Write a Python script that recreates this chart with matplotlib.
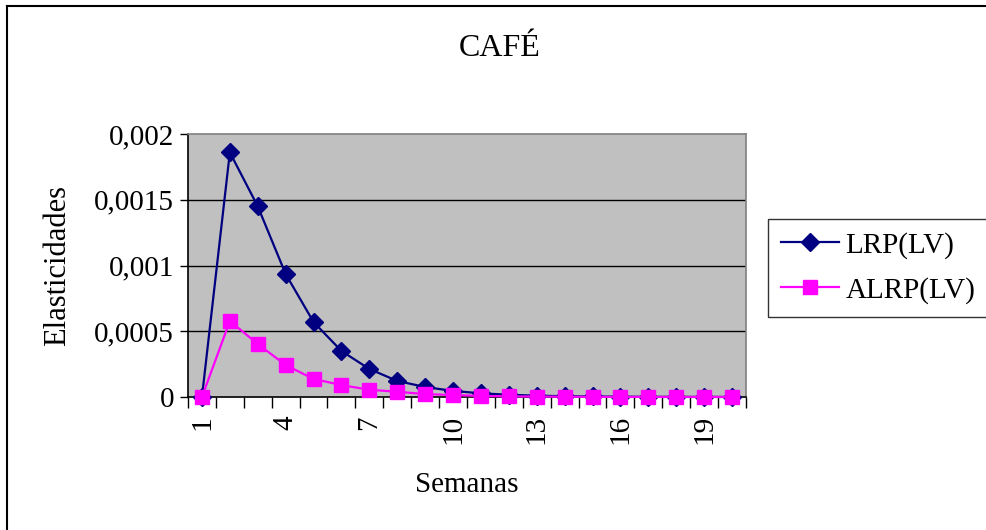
import matplotlib
matplotlib.use("Agg")
import matplotlib.pyplot as plt
from matplotlib.lines import Line2D

plt.rcParams['font.family'] = ['Liberation Serif', 'DejaVu Serif']

semanas = list(range(1, 21))
xtick_labels = ['1', '4', '7', '10', '13', '16', '19']
lrp = [0.0, 0.00186, 0.00145, 0.000935, 0.00057, 0.00035, 0.000213, 0.000122,
       0.000076, 0.000046, 0.000028, 0.000017, 0.00001, 0.000006, 0.000004,
       0.0000025, 0.0000015, 0.000001, 0.0000006, 0.0000004]
alrp = [0.0, 0.000578, 0.000403, 0.000243, 0.000137, 0.000091, 0.000055, 0.00004,
        0.000022, 0.000015, 0.000008, 0.000005, 0.000003, 0.000002, 0.000001,
        0.0000006, 0.0000004, 0.0000002, 0.0000001, 0.0000001]
yticks = [0, 0.0005, 0.001, 0.0015, 0.002]
ytick_labels = ['0', '0,0005', '0,001', '0,0015', '0,002']

W, H = 987, 530
fig = plt.figure(figsize=(W / 100, H / 100), dpi=100)
ax = fig.add_axes([188 / W, 1 - 397 / H, (746 - 188) / W, (397 - 134) / H])
ax.set_facecolor('#C0C0C0')

for y in yticks[1:4]:
    ax.axhline(y, color='black', lw=1.0, zorder=1)

ax.plot(semanas, lrp, color='#000080', lw=1.6, marker='D', markersize=9,
        markerfacecolor='#000080', markeredgecolor='#000080', zorder=3, clip_on=False)
ax.plot(semanas, alrp, color='#FF00FF', lw=1.6, marker='s', markersize=10,
        markerfacecolor='#FF00FF', markeredgecolor='#FF00FF', zorder=4, clip_on=False)

ax.set_xlim(0.5, 20.5)
ax.set_ylim(0, 0.002)
ax.set_yticks(yticks)
ax.set_yticklabels(ytick_labels, fontsize=21)
ax.set_xticks([x + 0.5 for x in range(0, 21)])
ax.set_xticklabels([])
ax.set_xticks([1, 4, 7, 10, 13, 16, 19], minor=True)
ax.set_xticklabels(xtick_labels, minor=True, rotation=90, fontsize=21)
ax.tick_params(axis='x', which='major', direction='out', length=8, width=1, color='black')
ax.tick_params(axis='x', which='minor', length=0, pad=13)
ax.tick_params(axis='y', direction='out', length=6, width=1, pad=4)

for s in ['top', 'right']:
    ax.spines[s].set_color('#808080')
    ax.spines[s].set_linewidth(1.2)
for s in ['left', 'bottom']:
    ax.spines[s].set_color('black')
    ax.spines[s].set_linewidth(1.2)

ax.set_xlabel('Semanas', fontsize=21, labelpad=20)
ax.set_ylabel('Elasticidades', fontsize=22, labelpad=16)
fig.text(500 / W, 1 - 48 / H, 'CAFÉ', fontsize=23, ha='center', va='center')

handles = [
    Line2D([], [], color='#000080', lw=1.6, marker='D', markersize=9),
    Line2D([], [], color='#FF00FF', lw=1.6, marker='s', markersize=10),
]
leg = fig.legend(handles, ['LRP(LV)', 'ALRP(LV)'], loc='center left',
                 bbox_to_anchor=(768 / W, 1 - 268 / H), fontsize=21, frameon=True,
                 fancybox=False, edgecolor='black', handlelength=2.0,
                 handletextpad=0.2, borderpad=0.45, labelspacing=0.62,
                 borderaxespad=0)
leg.get_frame().set_linewidth(1.0)

# outer chart border (left and top visible)
fig.add_artist(Line2D([7 / W, 7 / W], [0, 1 - 6 / H], color='black', lw=1.5, transform=fig.transFigure))
fig.add_artist(Line2D([7 / W, 1], [1 - 6 / H, 1 - 6 / H], color='black', lw=1.5, transform=fig.transFigure))

fig.savefig('out.png', dpi=100)
